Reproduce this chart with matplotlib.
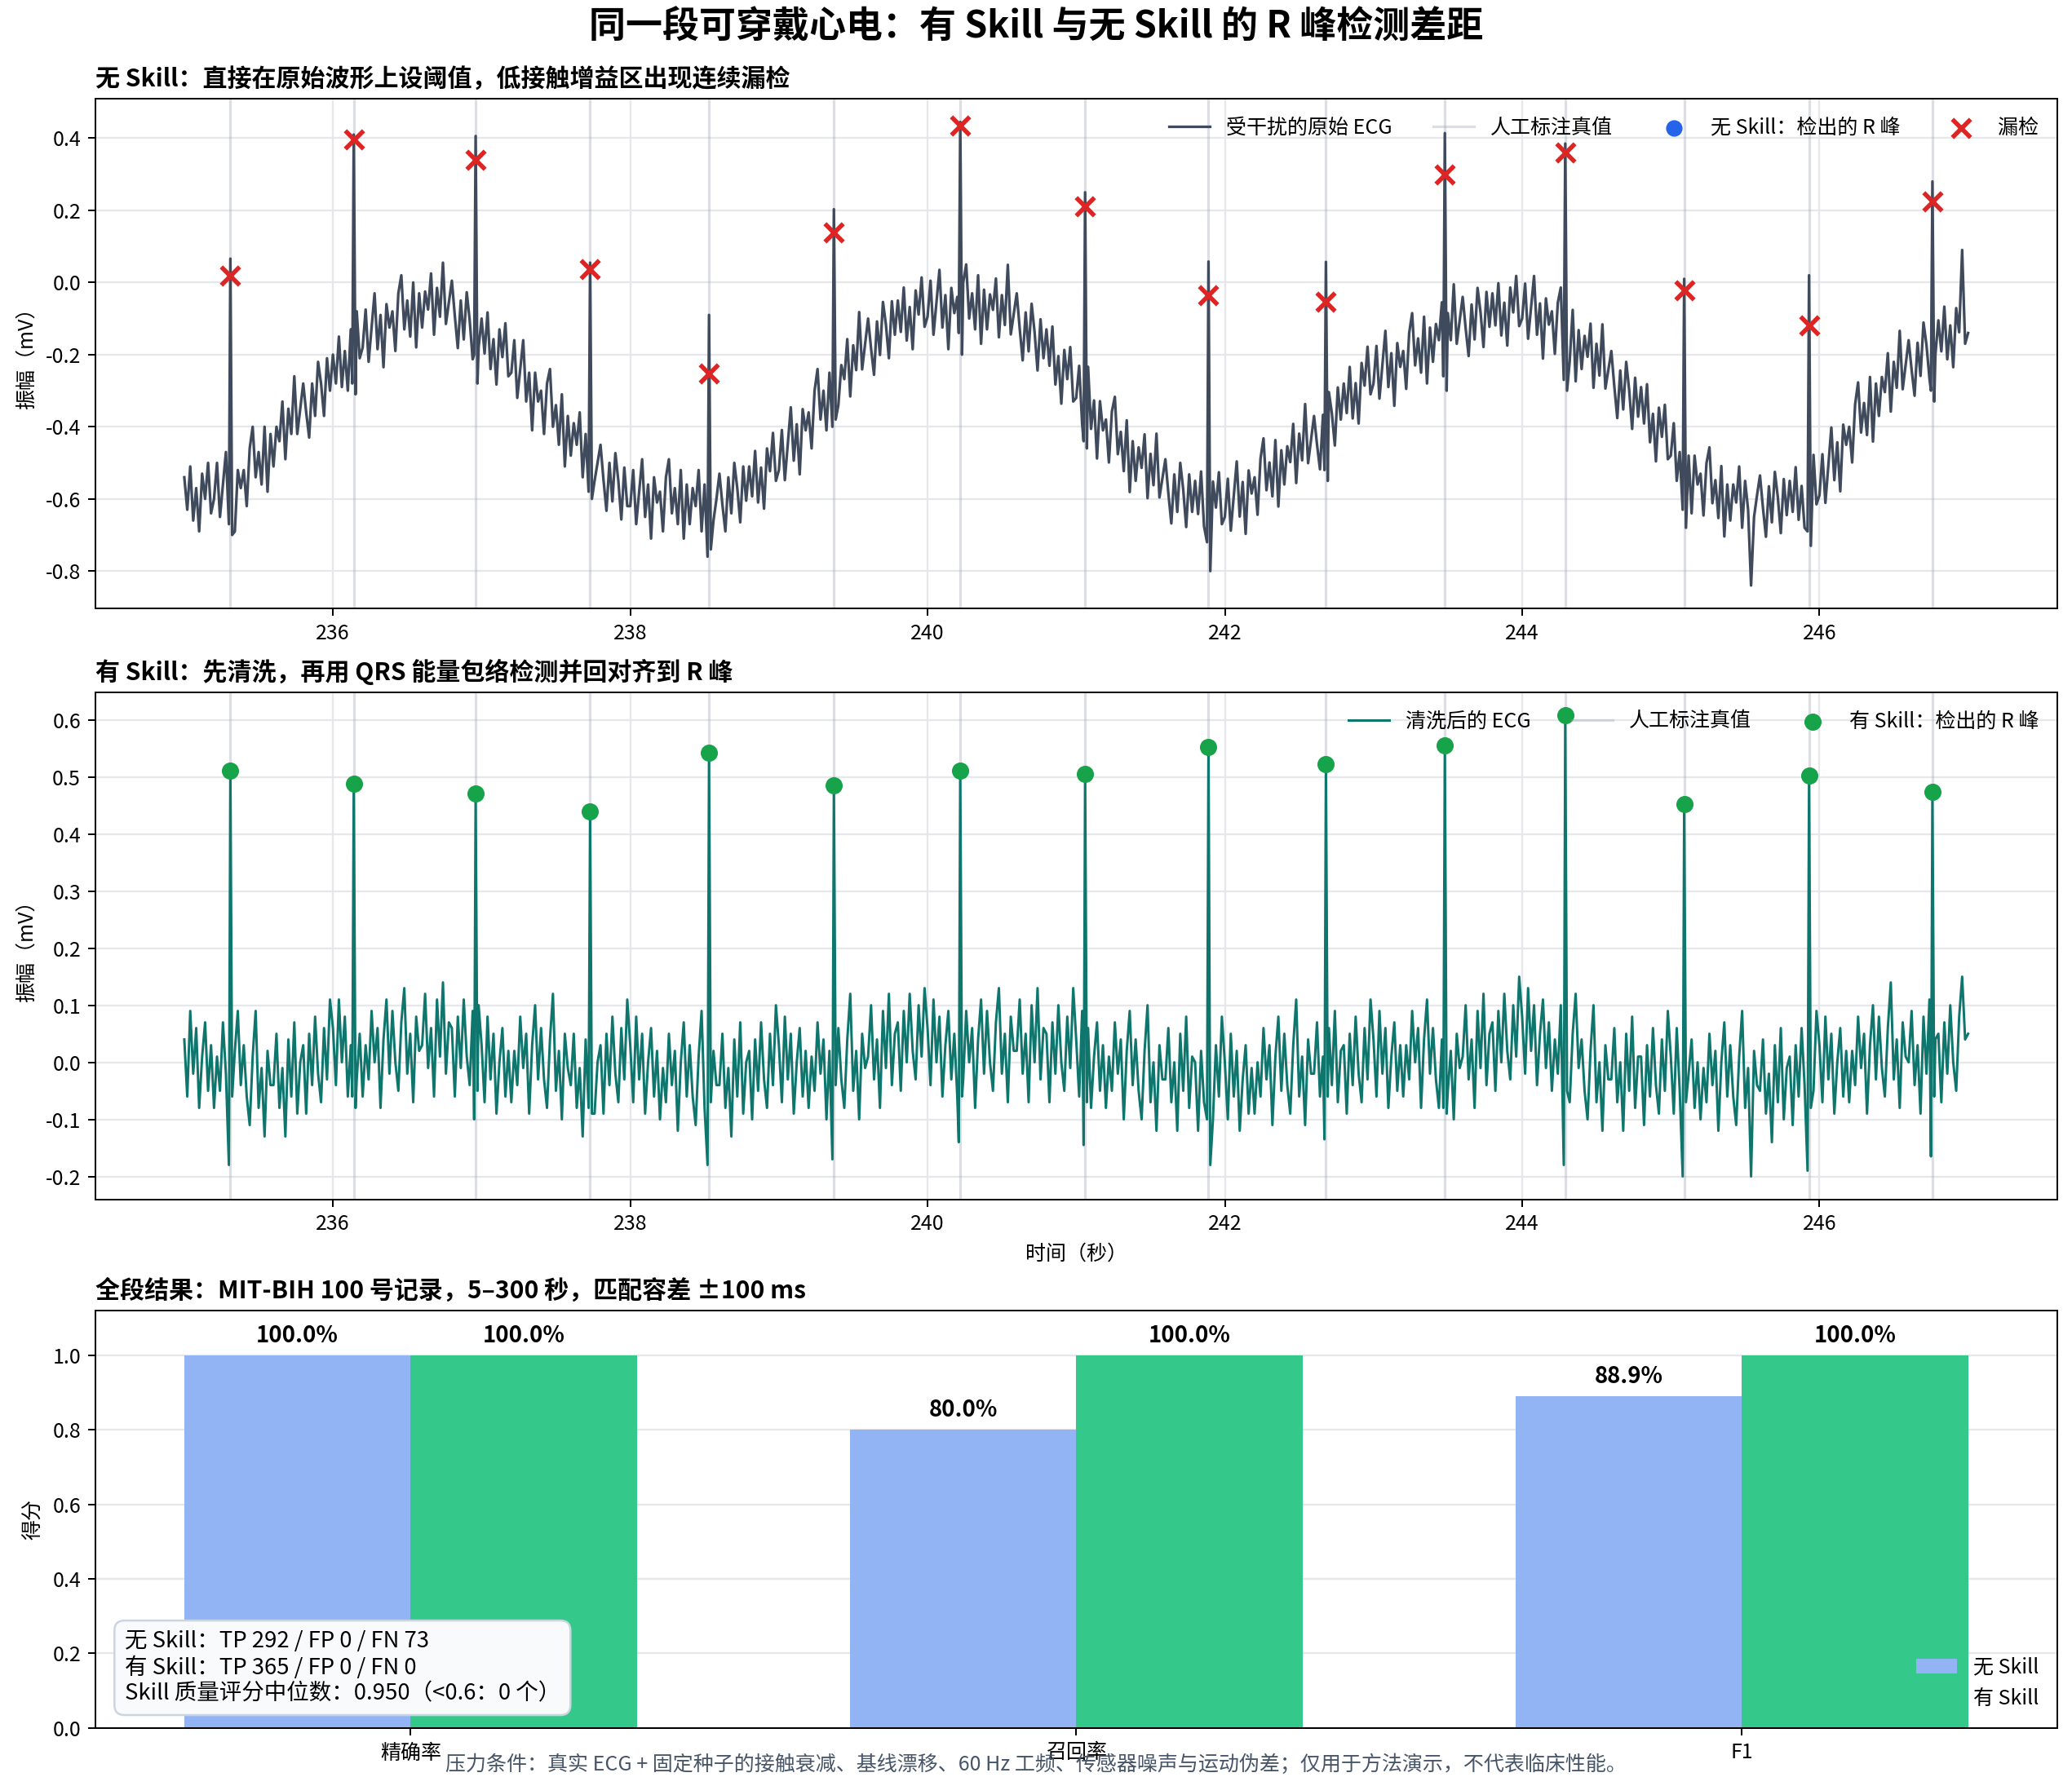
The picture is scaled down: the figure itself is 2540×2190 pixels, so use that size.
import matplotlib
matplotlib.use("Agg")
import matplotlib.pyplot as plt
import numpy as np

plt.rcParams['font.family'] = ['Noto Sans CJK SC', 'DejaVu Sans']
plt.rcParams['axes.unicode_minus'] = False

# ---- data ----
t_start, t_end = 235.0, 247.0          # window shown (s), 0.02 s per sample

# raw ECG, one row per 0.2 s
raw_ecg = [
    -0.54, -0.63, -0.51, -0.66, -0.57, -0.69, -0.53, -0.60, -0.50, -0.64,
    -0.60, -0.50, -0.65, -0.56, -0.47, -0.63, -0.54, -0.69, -0.52, -0.57,
    -0.52, -0.62, -0.46, -0.40, -0.54, -0.47, -0.56, -0.40, -0.58, -0.42,
    -0.51, -0.40, -0.44, -0.33, -0.49, -0.35, -0.42, -0.26, -0.42, -0.35,
    -0.28, -0.36, -0.43, -0.28, -0.37, -0.22, -0.28, -0.37, -0.21, -0.30,
    -0.20, -0.28, -0.15, -0.29, -0.19, -0.30, -0.13, -0.19, -0.08, -0.21,
    -0.18, -0.075, -0.22, -0.125, -0.03, -0.185, -0.09, -0.235, -0.06, -0.125,
    -0.08, -0.19, -0.03, 0.02, -0.13, -0.05, -0.15, 0.00, -0.18, -0.03,
    -0.125, -0.025, -0.075, 0.025, -0.145, -0.015, -0.095, 0.055, -0.115, -0.055,
    0.005, -0.093, -0.182, -0.05, -0.158, -0.027, -0.105, -0.213, -0.072, -0.18,
    -0.10, -0.197, -0.083, -0.24, -0.157, -0.283, -0.13, -0.207, -0.113, -0.26,
    -0.25, -0.16, -0.32, -0.24, -0.16, -0.33, -0.25, -0.41, -0.25, -0.33,
    -0.30, -0.42, -0.28, -0.24, -0.40, -0.34, -0.45, -0.31, -0.51, -0.37,
    -0.48, -0.39, -0.45, -0.36, -0.54, -0.42, -0.51, -0.37, -0.55, -0.50,
    -0.45, -0.547, -0.633, -0.50, -0.607, -0.473, -0.55, -0.657, -0.513, -0.62,
    -0.62, -0.52, -0.67, -0.58, -0.49, -0.65, -0.56, -0.71, -0.54, -0.61,
    -0.58, -0.69, -0.54, -0.49, -0.64, -0.57, -0.67, -0.52, -0.71, -0.56,
    -0.67, -0.57, -0.62, -0.52, -0.69, -0.56, -0.64, -0.49, -0.66, -0.60,
    -0.53, -0.616, -0.69, -0.54, -0.64, -0.50, -0.57, -0.665, -0.51, -0.605,
    -0.51, -0.593, -0.467, -0.61, -0.513, -0.627, -0.46, -0.523, -0.417, -0.55,
    -0.52, -0.409, -0.548, -0.447, -0.346, -0.494, -0.393, -0.532, -0.351, -0.41,
    -0.36, -0.46, -0.30, -0.24, -0.38, -0.30, -0.41, -0.25, -0.41, -0.25,
    -0.34, -0.229, -0.268, -0.157, -0.316, -0.174, -0.243, -0.082, -0.241, -0.17,
    -0.10, -0.183, -0.256, -0.108, -0.201, -0.054, -0.117, -0.21, -0.052, -0.145,
    -0.05, -0.137, -0.014, -0.161, -0.068, -0.185, -0.022, -0.089, 0.014, -0.123,
    -0.095, 0.005, -0.145, -0.055, 0.035, -0.125, -0.035, -0.185, -0.015, -0.085,
    -0.04, -0.15, 0.00, 0.05, -0.10, -0.03, -0.13, 0.02, -0.17, -0.02,
    -0.13, -0.033, -0.076, 0.011, -0.152, -0.035, -0.118, 0.049, -0.144, -0.087,
    -0.03, -0.128, -0.216, -0.083, -0.191, -0.059, -0.137, -0.244, -0.102, -0.21,
    -0.13, -0.231, -0.122, -0.283, -0.204, -0.336, -0.187, -0.268, -0.179, -0.33,
    -0.32, -0.231, -0.392, -0.313, -0.234, -0.406, -0.327, -0.488, -0.329, -0.41,
    -0.38, -0.499, -0.358, -0.317, -0.476, -0.414, -0.523, -0.382, -0.581, -0.44,
    -0.55, -0.457, -0.514, -0.421, -0.598, -0.475, -0.562, -0.419, -0.596, -0.543,
    -0.49, -0.584, -0.668, -0.532, -0.636, -0.50, -0.574, -0.678, -0.532, -0.636,
    -0.55, -0.642, -0.524, -0.676, -0.588, -0.71, -0.552, -0.624, -0.526, -0.67,
    -0.65, -0.544, -0.688, -0.592, -0.496, -0.649, -0.553, -0.697, -0.521, -0.585,
    -0.54, -0.644, -0.488, -0.432, -0.576, -0.499, -0.593, -0.437, -0.621, -0.465,
    -0.56, -0.454, -0.498, -0.392, -0.556, -0.419, -0.493, -0.337, -0.501, -0.435,
    -0.37, -0.449, -0.518, -0.367, -0.456, -0.304, -0.363, -0.452, -0.291, -0.38,
    -0.28, -0.362, -0.234, -0.377, -0.279, -0.391, -0.223, -0.286, -0.178, -0.31,
    -0.28, -0.176, -0.322, -0.228, -0.134, -0.29, -0.196, -0.342, -0.168, -0.234,
    -0.19, -0.295, -0.14, -0.085, -0.23, -0.155, -0.25, -0.095, -0.28, -0.125,
    -0.22, -0.115, -0.16, -0.055, -0.22, -0.085, -0.16, -0.005, -0.17, -0.105,
    -0.04, -0.127, -0.204, -0.061, -0.158, -0.015, -0.082, -0.179, -0.026, -0.123,
    -0.03, -0.119, -0.002, -0.147, -0.056, -0.175, -0.014, -0.083, 0.018, -0.121,
    -0.10, -0.003, -0.156, -0.069, 0.018, -0.145, -0.058, -0.211, -0.044, -0.117,
    -0.08, -0.198, -0.056, -0.014, -0.172, -0.11, -0.218, -0.076, -0.274, -0.132,
    -0.24, -0.148, -0.206, -0.114, -0.292, -0.17, -0.258, -0.116, -0.294, -0.242,
    -0.19, -0.288, -0.376, -0.244, -0.352, -0.22, -0.298, -0.406, -0.264, -0.372,
    -0.29, -0.391, -0.282, -0.443, -0.364, -0.496, -0.347, -0.428, -0.339, -0.49,
    -0.48, -0.39, -0.55, -0.47, -0.39, -0.56, -0.48, -0.64, -0.48, -0.56,
    -0.53, -0.646, -0.501, -0.457, -0.612, -0.548, -0.653, -0.509, -0.704, -0.56,
    -0.66, -0.56, -0.61, -0.51, -0.68, -0.55, -0.63, -0.84, -0.65, -0.59,
    -0.535, -0.625, -0.705, -0.565, -0.665, -0.525, -0.595, -0.695, -0.545, -0.645,
    -0.55, -0.636, -0.512, -0.658, -0.564, -0.68, -0.516, -0.582, -0.478, -0.615,
    -0.59, -0.476, -0.611, -0.507, -0.402, -0.548, -0.443, -0.579, -0.394, -0.45,
    -0.40, -0.499, -0.338, -0.277, -0.416, -0.334, -0.423, -0.262, -0.441, -0.28,
    -0.37, -0.262, -0.304, -0.196, -0.358, -0.22, -0.292, -0.134, -0.296, -0.228,
    -0.16, -0.242, -0.314, -0.167, -0.259, -0.111, -0.173, -0.266, -0.108, -0.20,
    -0.105, -0.191, -0.067, -0.213, -0.119, -0.235, -0.071, -0.138, 0.09, -0.17,
    -0.14,
]

# cleaned ECG, one row per 0.2 s
clean_ecg = [
    0.04, -0.06, 0.09, -0.02, 0.06, -0.08, 0.01, 0.07, -0.05, 0.03,
    -0.08, 0.01, -0.05, 0.07, -0.02, 0.04, -0.10, 0.02, 0.09, -0.04,
    0.03, -0.06, -0.11, 0.01, 0.09, -0.08, -0.01, -0.13, 0.02, -0.04,
    -0.04, 0.05, -0.08, -0.01, -0.13, 0.04, -0.06, 0.07, -0.09, 0.00,
    0.03, -0.09, 0.05, -0.04, 0.08, -0.02, -0.07, 0.06, -0.03, 0.11,
    0.06, -0.04, 0.11, 0.00, 0.08, -0.06, 0.03, 0.09, -0.03, 0.05,
    -0.06, 0.03, -0.03, 0.09, 0.00, 0.06, -0.08, 0.04, 0.11, -0.02,
    0.09, 0.00, -0.05, 0.07, 0.13, -0.02, 0.05, -0.07, 0.08, 0.02,
    0.03, 0.12, -0.01, 0.06, -0.06, 0.11, 0.01, 0.14, -0.02, 0.07,
    0.06, -0.06, 0.08, -0.01, 0.11, 0.01, -0.04, 0.09, 0.00, 0.10,
    0.03, -0.07, 0.08, -0.03, 0.05, -0.09, 0.00, 0.06, -0.06, 0.02,
    -0.07, 0.02, -0.04, 0.08, -0.01, 0.05, -0.09, 0.03, 0.10, -0.03,
    0.06, -0.03, -0.08, 0.04, 0.12, -0.05, 0.02, -0.10, 0.05, -0.01,
    -0.04, 0.05, -0.08, -0.01, -0.13, 0.04, -0.06, 0.07, -0.09, 0.00,
    0.03, -0.09, 0.05, -0.04, 0.08, -0.02, -0.07, 0.06, -0.03, 0.11,
    0.03, -0.07, 0.08, -0.03, 0.05, -0.09, 0.00, 0.06, -0.06, 0.02,
    -0.10, -0.01, -0.07, 0.05, -0.04, 0.02, -0.12, 0.00, 0.07, -0.06,
    0.03, -0.06, -0.11, 0.01, 0.09, -0.08, -0.01, -0.13, 0.02, -0.04,
    -0.04, 0.05, -0.08, -0.01, -0.13, 0.04, -0.06, 0.07, -0.09, 0.00,
    0.02, -0.10, 0.04, -0.05, 0.07, -0.03, -0.08, 0.05, -0.04, 0.10,
    0.03, -0.07, 0.08, -0.03, 0.05, -0.09, 0.00, 0.06, -0.06, 0.02,
    -0.08, 0.01, -0.05, 0.07, -0.02, 0.04, -0.10, 0.02, 0.09, -0.04,
    0.06, -0.03, -0.08, 0.04, 0.12, -0.05, 0.02, -0.10, 0.05, -0.01,
    0.01, 0.10, -0.03, 0.04, -0.08, 0.09, -0.01, 0.12, -0.04, 0.05,
    0.07, -0.05, 0.09, 0.00, 0.12, 0.02, -0.03, 0.10, 0.01, 0.13,
    0.06, -0.04, 0.11, 0.00, 0.08, -0.06, 0.03, 0.09, -0.03, 0.05,
    -0.06, 0.03, -0.03, 0.09, 0.00, 0.06, -0.08, 0.04, 0.11, -0.02,
    0.09, 0.00, -0.05, 0.07, 0.13, -0.02, 0.05, -0.07, 0.08, 0.02,
    0.02, 0.11, -0.02, 0.05, -0.07, 0.10, 0.00, 0.13, -0.03, 0.06,
    0.05, -0.07, 0.07, -0.02, 0.10, 0.00, -0.05, 0.08, -0.01, 0.13,
    0.04, -0.06, 0.09, -0.02, 0.06, -0.08, 0.01, 0.07, -0.05, 0.03,
    -0.08, 0.01, -0.05, 0.07, -0.02, 0.04, -0.10, 0.02, 0.09, -0.04,
    0.04, -0.05, -0.10, 0.02, 0.10, -0.07, 0.00, -0.12, 0.03, -0.03,
    -0.03, 0.06, -0.07, 0.00, -0.12, 0.05, -0.05, 0.08, -0.08, 0.01,
    0.00, -0.12, 0.02, -0.07, 0.05, -0.05, -0.10, 0.03, -0.06, 0.08,
    0.00, -0.10, 0.05, -0.06, 0.02, -0.12, -0.03, 0.03, -0.09, -0.01,
    -0.09, 0.00, -0.06, 0.06, -0.03, 0.03, -0.11, 0.01, 0.08, -0.05,
    0.05, -0.04, -0.09, 0.03, 0.11, -0.06, 0.01, -0.11, 0.04, -0.02,
    -0.02, 0.07, -0.06, 0.01, -0.11, 0.06, -0.04, 0.09, -0.07, 0.02,
    0.03, -0.09, 0.05, -0.04, 0.08, -0.02, -0.07, 0.06, -0.03, 0.11,
    0.04, -0.06, 0.09, -0.02, 0.06, -0.08, 0.01, 0.07, -0.05, 0.03,
    -0.06, 0.03, -0.03, 0.09, 0.00, 0.06, -0.08, 0.04, 0.11, -0.02,
    0.06, -0.03, -0.08, 0.04, 0.12, -0.05, 0.02, -0.10, 0.05, -0.01,
    0.01, 0.10, -0.03, 0.04, -0.08, 0.09, -0.01, 0.12, -0.04, 0.05,
    0.07, -0.05, 0.09, 0.00, 0.12, 0.02, -0.03, 0.10, 0.01, 0.15,
    0.08, -0.02, 0.13, 0.02, 0.10, -0.04, 0.05, 0.11, -0.01, 0.07,
    -0.05, 0.04, -0.02, 0.10, 0.01, 0.07, -0.07, 0.05, 0.12, -0.01,
    0.04, -0.05, -0.10, 0.02, 0.10, -0.07, 0.00, -0.12, 0.03, -0.03,
    -0.03, 0.06, -0.07, 0.00, -0.12, 0.05, -0.05, 0.08, -0.08, 0.01,
    0.01, -0.11, 0.03, -0.06, 0.06, -0.04, -0.09, 0.04, -0.05, 0.09,
    0.01, -0.09, 0.06, -0.05, 0.03, -0.11, -0.02, 0.04, -0.08, 0.00,
    -0.10, -0.01, -0.07, 0.05, -0.04, 0.02, -0.12, 0.00, 0.07, -0.06,
    0.03, -0.06, -0.11, 0.01, 0.09, -0.08, -0.01, -0.20, 0.02, -0.04,
    -0.05, 0.04, -0.09, -0.02, -0.14, 0.03, -0.07, 0.06, -0.10, -0.01,
    0.01, -0.11, 0.03, -0.06, 0.06, -0.04, -0.09, 0.04, -0.05, 0.09,
    0.03, -0.07, 0.08, -0.03, 0.05, -0.09, 0.00, 0.06, -0.06, 0.02,
    -0.07, 0.02, -0.04, 0.08, -0.01, 0.05, -0.09, 0.03, 0.10, -0.03,
    0.08, -0.01, -0.06, 0.06, 0.14, -0.03, 0.04, -0.08, 0.07, 0.01,
    0.00, 0.09, -0.04, 0.03, -0.09, 0.08, -0.02, 0.11, -0.05, 0.04,
    0.05, -0.07, 0.07, -0.02, 0.10, 0.00, -0.05, 0.08, 0.15, 0.04,
    0.05,
]

# annotated R peaks (s)
r_times = np.array([235.31, 236.14, 236.96, 237.73, 238.53, 239.37, 240.22, 241.06,
                    241.89, 242.68, 243.48, 244.29, 245.09, 245.93, 246.76])
# raw trace around each beat
raw_q = [-0.67, -0.28, -0.20, -0.58, -0.76, -0.40, -0.14, -0.44, -0.72, -0.52, -0.26, -0.27, -0.63, -0.69, -0.30]
raw_top = [0.066, 0.41, 0.406, 0.055, -0.09, 0.203, 0.445, 0.25, 0.058, 0.057, 0.414, 0.385, 0.01, 0.02, 0.28]
raw_s = [-0.70, -0.31, -0.28, -0.60, -0.74, -0.38, -0.20, -0.46, -0.80, -0.55, -0.30, -0.30, -0.68, -0.73, -0.33]
miss_y = [0.02, 0.397, 0.341, 0.036, -0.253, 0.138, 0.436, 0.212, -0.035, -0.053, 0.30, 0.36, -0.022, -0.12, 0.224]
# no-skill detections inside this window: none
nos_det_t, nos_det_y = [], []

# cleaned trace around each beat
clean_q = [-0.18, -0.06, -0.10, -0.08, -0.18, -0.17, -0.14, -0.145, -0.10, -0.135, -0.08, -0.18, -0.20, -0.19, -0.165]
clean_top = [0.511, 0.488, 0.471, 0.439, 0.542, 0.485, 0.511, 0.505, 0.553, 0.523, 0.556, 0.608, 0.452, 0.502, 0.474]
clean_s = [-0.06, -0.08, -0.05, -0.09, -0.07, -0.04, -0.06, -0.07, -0.18, -0.06, -0.09, -0.05, -0.07, -0.08, -0.06]

metrics = ["精确率", "召回率", "F1"]
no_skill = [1.0, 0.80, 0.889]
with_skill = [1.0, 1.0, 1.0]

summary_lines = ["无 Skill：TP 292 / FP 0 / FN 73",
                 "有 Skill：TP 365 / FP 0 / FN 0",
                 "Skill 质量评分中位数：0.950（<0.6：0 个）"]

# colours
c_raw = "#3f4a5c"
c_clean = "#0f766e"
c_truth = "#9ca3af"
c_blue = "#2563eb"
c_red = "#dc2626"
c_green = "#16a34a"
c_bar_no = "#93b4f4"
c_bar_yes = "#34c98a"


def merge_beats(grid_v, q, top, s):
    grid_t = np.linspace(t_start, t_end, len(grid_v))
    grid_v = np.asarray(grid_v)
    keep = np.min(np.abs(grid_t[:, None] - r_times[None, :]), axis=1) > 0.015
    t = np.concatenate([grid_t[keep], r_times - 0.01, r_times, r_times + 0.012])
    v = np.concatenate([grid_v[keep], q, top, s])
    order = np.argsort(t)
    return t[order], v[order]


raw_t, raw_v = merge_beats(raw_ecg, raw_q, raw_top, raw_s)
cln_t, cln_v = merge_beats(clean_ecg, clean_q, clean_top, clean_s)

fig = plt.figure(figsize=(2540 / 180, 2190 / 180), dpi=180)
ax1 = fig.add_axes([0.0459, 0.6592, 0.9470, 0.2855])
ax2 = fig.add_axes([0.0459, 0.3284, 0.9470, 0.2840])
ax3 = fig.add_axes([0.0459, 0.0325, 0.9470, 0.2338])

fig.suptitle("同一段可穿戴心电：有 Skill 与无 Skill 的 R 峰检测差距",
             fontsize=18, fontweight="bold", y=0.995)

# ---- panel 1: raw ----
ax1.plot(raw_t, raw_v, color=c_raw, lw=1.3, label="受干扰的原始 ECG", zorder=2)
for i, rt in enumerate(r_times):
    ax1.axvline(rt, color=c_truth, lw=1.3, alpha=0.35, zorder=1,
                label="人工标注真值" if i == 0 else None)
ax1.scatter(nos_det_t, nos_det_y, color=c_blue, s=50, label="无 Skill：检出的 R 峰", zorder=3)
ax1.scatter(r_times, miss_y, marker="x", color=c_red, s=80, linewidths=2.2, label="漏检", zorder=4)
ax1.set_title("无 Skill：直接在原始波形上设阈值，低接触增益区出现连续漏检",
              loc="left", fontsize=12, fontweight="bold")
ax1.set_ylabel("振幅（mV）")
ax1.grid(True, color="#e5e7eb", lw=0.9)
ax1.set_axisbelow(True)
ax1.legend(loc="upper right", ncol=4, frameon=False, fontsize=10)

# ---- panel 2: cleaned ----
ax2.plot(cln_t, cln_v, color=c_clean, lw=1.2, label="清洗后的 ECG", zorder=2)
for i, rt in enumerate(r_times):
    ax2.axvline(rt, color=c_truth, lw=1.3, alpha=0.35, zorder=1,
                label="人工标注真值" if i == 0 else None)
ax2.scatter(r_times, clean_top, color=c_green, s=55, label="有 Skill：检出的 R 峰", zorder=4)
ax2.set_title("有 Skill：先清洗，再用 QRS 能量包络检测并回对齐到 R 峰",
              loc="left", fontsize=12, fontweight="bold")
ax2.set_ylabel("振幅（mV）")
ax2.set_xlabel("时间（秒）")
ax2.grid(True, color="#e5e7eb", lw=0.9)
ax2.set_axisbelow(True)
ax2.legend(loc="upper right", ncol=3, frameon=False, fontsize=10)

# ---- panel 3: bars ----
x = np.arange(len(metrics))
w = 0.34
b1 = ax3.bar(x - w / 2, no_skill, w, color=c_bar_no, label="无 Skill", zorder=2)
b2 = ax3.bar(x + w / 2, with_skill, w, color=c_bar_yes, label="有 Skill", zorder=2)
for bars in (b1, b2):
    for b in bars:
        ax3.annotate(f"{b.get_height() * 100:.1f}%",
                     (b.get_x() + b.get_width() / 2, b.get_height()),
                     xytext=(0, 4), textcoords="offset points",
                     ha="center", va="bottom", fontsize=11, fontweight="bold")
ax3.set_xticks(x)
ax3.set_xticklabels(metrics)
ax3.set_ylim(0, 1.12)
ax3.set_ylabel("得分")
ax3.set_title("全段结果：MIT-BIH 100 号记录，5–300 秒，匹配容差 ±100 ms",
              loc="left", fontsize=12, fontweight="bold")
ax3.grid(True, axis="y", color="#e5e7eb", lw=0.9)
ax3.set_axisbelow(True)
ax3.legend(loc="lower right", frameon=False, fontsize=10)
ax3.text(0.015, 0.055, "\n".join(summary_lines), transform=ax3.transAxes,
         fontsize=11, va="bottom", ha="left", zorder=5,
         bbox=dict(boxstyle="round,pad=0.45", facecolor="#f8fafc", edgecolor="#cbd5e1"))

fig.text(0.5, 0.012,
         "压力条件：真实 ECG + 固定种子的接触衰减、基线漂移、60 Hz 工频、传感器噪声与运动伪差；仅用于方法演示，不代表临床性能。",
         ha="center", va="center", fontsize=10, color="#475569")

fig.savefig("out.png", dpi=180)
